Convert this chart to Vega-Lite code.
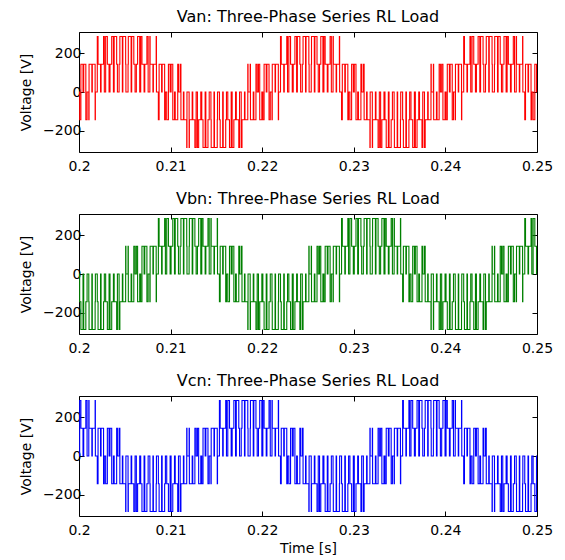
{
"$schema": "https://vega.github.io/schema/vega-lite/v6.json",
"padding": {"left": 19, "top": 8, "right": 22, "bottom": 5},
"background": "white",
"config": {
  "font": "DejaVu Sans",
  "view": {"stroke": "black", "strokeWidth": 1},
  "axis": {"grid": false, "domain": false, "tickColor": "black", "tickSize": -5, "labelPadding": 3, "labelFlush": false, "labelFontSize": 14, "labelColor": "black", "titleFontSize": 14, "titleFontWeight": "normal", "titleColor": "black", "titlePadding": 9, "labelFont": "DejaVu Sans", "titleFont": "DejaVu Sans"},
  "axisBottom": {"labelPadding": 12},
  "title": {"fontSize": 16, "fontWeight": "normal", "color": "black", "offset": 7, "font": "DejaVu Sans"},
  "concat": {"spacing": 62}
},
"data": {"values": [
{"t":0.2,"a":0,"b":0,"c":0},
{"t":0.200071,"a":-143,"b":-143,"c":287},{"t":0.200206,"a":143,"b":-287,"c":143},{"t":0.200438,"a":0,"b":0,"c":0},{"t":0.200515,"a":143,"b":-287,"c":143},{"t":0.200746,"a":-143,"b":-143,"c":287},{"t":0.200882,"a":0,"b":0,"c":0},
{"t":0.201070,"a":-143,"b":-143,"c":287},{"t":0.201098,"a":143,"b":-287,"c":143},{"t":0.201404,"a":0,"b":0,"c":0},{"t":0.201453,"a":143,"b":-287,"c":143},{"t":0.201760,"a":-143,"b":-143,"c":287},{"t":0.201787,"a":0,"b":0,"c":0},
{"t":0.201997,"a":287,"b":-143,"c":-143},{"t":0.202080,"a":143,"b":-287,"c":143},{"t":0.202352,"a":0,"b":0,"c":0},{"t":0.202410,"a":143,"b":-287,"c":143},{"t":0.202682,"a":287,"b":-143,"c":-143},{"t":0.202765,"a":0,"b":0,"c":0},
{"t":0.202910,"a":287,"b":-143,"c":-143},{"t":0.203095,"a":143,"b":-287,"c":143},{"t":0.203281,"a":0,"b":0,"c":0},{"t":0.203386,"a":143,"b":-287,"c":143},{"t":0.203571,"a":287,"b":-143,"c":-143},{"t":0.203757,"a":0,"b":0,"c":0},
{"t":0.203839,"a":287,"b":-143,"c":-143},{"t":0.204111,"a":143,"b":-287,"c":143},{"t":0.204193,"a":0,"b":0,"c":0},{"t":0.204378,"a":143,"b":-287,"c":143},{"t":0.204461,"a":287,"b":-143,"c":-143},{"t":0.204733,"a":0,"b":0,"c":0},
{"t":0.204786,"a":287,"b":-143,"c":-143},{"t":0.205093,"a":143,"b":143,"c":-287},{"t":0.205121,"a":0,"b":0,"c":0},{"t":0.205355,"a":143,"b":143,"c":-287},{"t":0.205383,"a":287,"b":-143,"c":-143},{"t":0.205690,"a":0,"b":0,"c":0},
{"t":0.205753,"a":287,"b":-143,"c":-143},{"t":0.205984,"a":143,"b":143,"c":-287},{"t":0.206120,"a":0,"b":0,"c":0},{"t":0.206261,"a":143,"b":143,"c":-287},{"t":0.206397,"a":287,"b":-143,"c":-143},{"t":0.206628,"a":0,"b":0,"c":0},
{"t":0.206737,"a":287,"b":-143,"c":-143},{"t":0.206873,"a":143,"b":143,"c":-287},{"t":0.207104,"a":0,"b":0,"c":0},{"t":0.207181,"a":143,"b":143,"c":-287},{"t":0.207413,"a":287,"b":-143,"c":-143},{"t":0.207548,"a":0,"b":0,"c":0},
{"t":0.207736,"a":287,"b":-143,"c":-143},{"t":0.207764,"a":143,"b":143,"c":-287},{"t":0.208071,"a":0,"b":0,"c":0},{"t":0.208120,"a":143,"b":143,"c":-287},{"t":0.208426,"a":287,"b":-143,"c":-143},{"t":0.208454,"a":0,"b":0,"c":0},
{"t":0.208664,"a":-143,"b":287,"c":-143},{"t":0.208746,"a":143,"b":143,"c":-287},{"t":0.209018,"a":0,"b":0,"c":0},{"t":0.209077,"a":143,"b":143,"c":-287},{"t":0.209349,"a":-143,"b":287,"c":-143},{"t":0.209431,"a":0,"b":0,"c":0},
{"t":0.209576,"a":-143,"b":287,"c":-143},{"t":0.209762,"a":143,"b":143,"c":-287},{"t":0.209947,"a":0,"b":0,"c":0},{"t":0.210053,"a":143,"b":143,"c":-287},{"t":0.210238,"a":-143,"b":287,"c":-143},{"t":0.210424,"a":0,"b":0,"c":0},
{"t":0.210505,"a":-143,"b":287,"c":-143},{"t":0.210777,"a":143,"b":143,"c":-287},{"t":0.210860,"a":0,"b":0,"c":0},{"t":0.211045,"a":143,"b":143,"c":-287},{"t":0.211127,"a":-143,"b":287,"c":-143},{"t":0.211399,"a":0,"b":0,"c":0},
{"t":0.211453,"a":-143,"b":287,"c":-143},{"t":0.211760,"a":-287,"b":143,"c":143},{"t":0.211787,"a":0,"b":0,"c":0},{"t":0.212022,"a":-287,"b":143,"c":143},{"t":0.212050,"a":-143,"b":287,"c":-143},{"t":0.212357,"a":0,"b":0,"c":0},
{"t":0.212420,"a":-143,"b":287,"c":-143},{"t":0.212651,"a":-287,"b":143,"c":143},{"t":0.212787,"a":0,"b":0,"c":0},{"t":0.212928,"a":-287,"b":143,"c":143},{"t":0.213063,"a":-143,"b":287,"c":-143},{"t":0.213295,"a":0,"b":0,"c":0},
{"t":0.213404,"a":-143,"b":287,"c":-143},{"t":0.213539,"a":-287,"b":143,"c":143},{"t":0.213771,"a":0,"b":0,"c":0},{"t":0.213848,"a":-287,"b":143,"c":143},{"t":0.214080,"a":-143,"b":287,"c":-143},{"t":0.214215,"a":0,"b":0,"c":0},
{"t":0.214403,"a":-143,"b":287,"c":-143},{"t":0.214431,"a":-287,"b":143,"c":143},{"t":0.214737,"a":0,"b":0,"c":0},{"t":0.214786,"a":-287,"b":143,"c":143},{"t":0.215093,"a":-143,"b":287,"c":-143},{"t":0.215121,"a":0,"b":0,"c":0},
{"t":0.215330,"a":-143,"b":-143,"c":287},{"t":0.215413,"a":-287,"b":143,"c":143},{"t":0.215685,"a":0,"b":0,"c":0},{"t":0.215743,"a":-287,"b":143,"c":143},{"t":0.216016,"a":-143,"b":-143,"c":287},{"t":0.216098,"a":0,"b":0,"c":0},
{"t":0.216243,"a":-143,"b":-143,"c":287},{"t":0.216429,"a":-287,"b":143,"c":143},{"t":0.216614,"a":0,"b":0,"c":0},{"t":0.216719,"a":-287,"b":143,"c":143},{"t":0.216905,"a":-143,"b":-143,"c":287},{"t":0.217090,"a":0,"b":0,"c":0},
{"t":0.217172,"a":-143,"b":-143,"c":287},{"t":0.217444,"a":-287,"b":143,"c":143},{"t":0.217527,"a":0,"b":0,"c":0},{"t":0.217711,"a":-287,"b":143,"c":143},{"t":0.217794,"a":-143,"b":-143,"c":287},{"t":0.218066,"a":0,"b":0,"c":0},
{"t":0.218120,"a":-143,"b":-143,"c":287},{"t":0.218426,"a":143,"b":-287,"c":143},{"t":0.218454,"a":0,"b":0,"c":0},{"t":0.218689,"a":143,"b":-287,"c":143},{"t":0.218717,"a":-143,"b":-143,"c":287},{"t":0.219023,"a":0,"b":0,"c":0},
{"t":0.219086,"a":-143,"b":-143,"c":287},{"t":0.219318,"a":143,"b":-287,"c":143},{"t":0.219453,"a":0,"b":0,"c":0},{"t":0.219594,"a":143,"b":-287,"c":143},{"t":0.219730,"a":-143,"b":-143,"c":287},{"t":0.219961,"a":0,"b":0,"c":0},
{"t":0.220071,"a":-143,"b":-143,"c":287},{"t":0.220206,"a":143,"b":-287,"c":143},{"t":0.220438,"a":0,"b":0,"c":0},{"t":0.220515,"a":143,"b":-287,"c":143},{"t":0.220746,"a":-143,"b":-143,"c":287},{"t":0.220882,"a":0,"b":0,"c":0},
{"t":0.221070,"a":-143,"b":-143,"c":287},{"t":0.221098,"a":143,"b":-287,"c":143},{"t":0.221404,"a":0,"b":0,"c":0},{"t":0.221453,"a":143,"b":-287,"c":143},{"t":0.221760,"a":-143,"b":-143,"c":287},{"t":0.221787,"a":0,"b":0,"c":0},
{"t":0.221997,"a":287,"b":-143,"c":-143},{"t":0.222080,"a":143,"b":-287,"c":143},{"t":0.222352,"a":0,"b":0,"c":0},{"t":0.222410,"a":143,"b":-287,"c":143},{"t":0.222682,"a":287,"b":-143,"c":-143},{"t":0.222765,"a":0,"b":0,"c":0},
{"t":0.222910,"a":287,"b":-143,"c":-143},{"t":0.223095,"a":143,"b":-287,"c":143},{"t":0.223281,"a":0,"b":0,"c":0},{"t":0.223386,"a":143,"b":-287,"c":143},{"t":0.223571,"a":287,"b":-143,"c":-143},{"t":0.223757,"a":0,"b":0,"c":0},
{"t":0.223839,"a":287,"b":-143,"c":-143},{"t":0.224111,"a":143,"b":-287,"c":143},{"t":0.224193,"a":0,"b":0,"c":0},{"t":0.224378,"a":143,"b":-287,"c":143},{"t":0.224461,"a":287,"b":-143,"c":-143},{"t":0.224733,"a":0,"b":0,"c":0},
{"t":0.224786,"a":287,"b":-143,"c":-143},{"t":0.225093,"a":143,"b":143,"c":-287},{"t":0.225121,"a":0,"b":0,"c":0},{"t":0.225355,"a":143,"b":143,"c":-287},{"t":0.225383,"a":287,"b":-143,"c":-143},{"t":0.225690,"a":0,"b":0,"c":0},
{"t":0.225753,"a":287,"b":-143,"c":-143},{"t":0.225984,"a":143,"b":143,"c":-287},{"t":0.226120,"a":0,"b":0,"c":0},{"t":0.226261,"a":143,"b":143,"c":-287},{"t":0.226397,"a":287,"b":-143,"c":-143},{"t":0.226628,"a":0,"b":0,"c":0},
{"t":0.226737,"a":287,"b":-143,"c":-143},{"t":0.226873,"a":143,"b":143,"c":-287},{"t":0.227104,"a":0,"b":0,"c":0},{"t":0.227181,"a":143,"b":143,"c":-287},{"t":0.227413,"a":287,"b":-143,"c":-143},{"t":0.227548,"a":0,"b":0,"c":0},
{"t":0.227736,"a":287,"b":-143,"c":-143},{"t":0.227764,"a":143,"b":143,"c":-287},{"t":0.228071,"a":0,"b":0,"c":0},{"t":0.228120,"a":143,"b":143,"c":-287},{"t":0.228426,"a":287,"b":-143,"c":-143},{"t":0.228454,"a":0,"b":0,"c":0},
{"t":0.228664,"a":-143,"b":287,"c":-143},{"t":0.228746,"a":143,"b":143,"c":-287},{"t":0.229018,"a":0,"b":0,"c":0},{"t":0.229077,"a":143,"b":143,"c":-287},{"t":0.229349,"a":-143,"b":287,"c":-143},{"t":0.229431,"a":0,"b":0,"c":0},
{"t":0.229576,"a":-143,"b":287,"c":-143},{"t":0.229762,"a":143,"b":143,"c":-287},{"t":0.229947,"a":0,"b":0,"c":0},{"t":0.230053,"a":143,"b":143,"c":-287},{"t":0.230238,"a":-143,"b":287,"c":-143},{"t":0.230424,"a":0,"b":0,"c":0},
{"t":0.230505,"a":-143,"b":287,"c":-143},{"t":0.230777,"a":143,"b":143,"c":-287},{"t":0.230860,"a":0,"b":0,"c":0},{"t":0.231045,"a":143,"b":143,"c":-287},{"t":0.231127,"a":-143,"b":287,"c":-143},{"t":0.231399,"a":0,"b":0,"c":0},
{"t":0.231453,"a":-143,"b":287,"c":-143},{"t":0.231760,"a":-287,"b":143,"c":143},{"t":0.231787,"a":0,"b":0,"c":0},{"t":0.232022,"a":-287,"b":143,"c":143},{"t":0.232050,"a":-143,"b":287,"c":-143},{"t":0.232357,"a":0,"b":0,"c":0},
{"t":0.232420,"a":-143,"b":287,"c":-143},{"t":0.232651,"a":-287,"b":143,"c":143},{"t":0.232787,"a":0,"b":0,"c":0},{"t":0.232928,"a":-287,"b":143,"c":143},{"t":0.233063,"a":-143,"b":287,"c":-143},{"t":0.233295,"a":0,"b":0,"c":0},
{"t":0.233404,"a":-143,"b":287,"c":-143},{"t":0.233539,"a":-287,"b":143,"c":143},{"t":0.233771,"a":0,"b":0,"c":0},{"t":0.233848,"a":-287,"b":143,"c":143},{"t":0.234080,"a":-143,"b":287,"c":-143},{"t":0.234215,"a":0,"b":0,"c":0},
{"t":0.234403,"a":-143,"b":287,"c":-143},{"t":0.234431,"a":-287,"b":143,"c":143},{"t":0.234737,"a":0,"b":0,"c":0},{"t":0.234786,"a":-287,"b":143,"c":143},{"t":0.235093,"a":-143,"b":287,"c":-143},{"t":0.235121,"a":0,"b":0,"c":0},
{"t":0.235330,"a":-143,"b":-143,"c":287},{"t":0.235413,"a":-287,"b":143,"c":143},{"t":0.235685,"a":0,"b":0,"c":0},{"t":0.235743,"a":-287,"b":143,"c":143},{"t":0.236016,"a":-143,"b":-143,"c":287},{"t":0.236098,"a":0,"b":0,"c":0},
{"t":0.236243,"a":-143,"b":-143,"c":287},{"t":0.236429,"a":-287,"b":143,"c":143},{"t":0.236614,"a":0,"b":0,"c":0},{"t":0.236719,"a":-287,"b":143,"c":143},{"t":0.236905,"a":-143,"b":-143,"c":287},{"t":0.237090,"a":0,"b":0,"c":0},
{"t":0.237172,"a":-143,"b":-143,"c":287},{"t":0.237444,"a":-287,"b":143,"c":143},{"t":0.237527,"a":0,"b":0,"c":0},{"t":0.237711,"a":-287,"b":143,"c":143},{"t":0.237794,"a":-143,"b":-143,"c":287},{"t":0.238066,"a":0,"b":0,"c":0},
{"t":0.238120,"a":-143,"b":-143,"c":287},{"t":0.238426,"a":143,"b":-287,"c":143},{"t":0.238454,"a":0,"b":0,"c":0},{"t":0.238689,"a":143,"b":-287,"c":143},{"t":0.238717,"a":-143,"b":-143,"c":287},{"t":0.239023,"a":0,"b":0,"c":0},
{"t":0.239086,"a":-143,"b":-143,"c":287},{"t":0.239318,"a":143,"b":-287,"c":143},{"t":0.239453,"a":0,"b":0,"c":0},{"t":0.239594,"a":143,"b":-287,"c":143},{"t":0.239730,"a":-143,"b":-143,"c":287},{"t":0.239961,"a":0,"b":0,"c":0},
{"t":0.240071,"a":-143,"b":-143,"c":287},{"t":0.240206,"a":143,"b":-287,"c":143},{"t":0.240438,"a":0,"b":0,"c":0},{"t":0.240515,"a":143,"b":-287,"c":143},{"t":0.240746,"a":-143,"b":-143,"c":287},{"t":0.240882,"a":0,"b":0,"c":0},
{"t":0.241070,"a":-143,"b":-143,"c":287},{"t":0.241098,"a":143,"b":-287,"c":143},{"t":0.241404,"a":0,"b":0,"c":0},{"t":0.241453,"a":143,"b":-287,"c":143},{"t":0.241760,"a":-143,"b":-143,"c":287},{"t":0.241787,"a":0,"b":0,"c":0},
{"t":0.241997,"a":287,"b":-143,"c":-143},{"t":0.242080,"a":143,"b":-287,"c":143},{"t":0.242352,"a":0,"b":0,"c":0},{"t":0.242410,"a":143,"b":-287,"c":143},{"t":0.242682,"a":287,"b":-143,"c":-143},{"t":0.242765,"a":0,"b":0,"c":0},
{"t":0.242910,"a":287,"b":-143,"c":-143},{"t":0.243095,"a":143,"b":-287,"c":143},{"t":0.243281,"a":0,"b":0,"c":0},{"t":0.243386,"a":143,"b":-287,"c":143},{"t":0.243571,"a":287,"b":-143,"c":-143},{"t":0.243757,"a":0,"b":0,"c":0},
{"t":0.243839,"a":287,"b":-143,"c":-143},{"t":0.244111,"a":143,"b":-287,"c":143},{"t":0.244193,"a":0,"b":0,"c":0},{"t":0.244378,"a":143,"b":-287,"c":143},{"t":0.244461,"a":287,"b":-143,"c":-143},{"t":0.244733,"a":0,"b":0,"c":0},
{"t":0.244786,"a":287,"b":-143,"c":-143},{"t":0.245093,"a":143,"b":143,"c":-287},{"t":0.245121,"a":0,"b":0,"c":0},{"t":0.245355,"a":143,"b":143,"c":-287},{"t":0.245383,"a":287,"b":-143,"c":-143},{"t":0.245690,"a":0,"b":0,"c":0},
{"t":0.245753,"a":287,"b":-143,"c":-143},{"t":0.245984,"a":143,"b":143,"c":-287},{"t":0.246120,"a":0,"b":0,"c":0},{"t":0.246261,"a":143,"b":143,"c":-287},{"t":0.246397,"a":287,"b":-143,"c":-143},{"t":0.246628,"a":0,"b":0,"c":0},
{"t":0.246737,"a":287,"b":-143,"c":-143},{"t":0.246873,"a":143,"b":143,"c":-287},{"t":0.247104,"a":0,"b":0,"c":0},{"t":0.247181,"a":143,"b":143,"c":-287},{"t":0.247413,"a":287,"b":-143,"c":-143},{"t":0.247548,"a":0,"b":0,"c":0},
{"t":0.247736,"a":287,"b":-143,"c":-143},{"t":0.247764,"a":143,"b":143,"c":-287},{"t":0.248071,"a":0,"b":0,"c":0},{"t":0.248120,"a":143,"b":143,"c":-287},{"t":0.248426,"a":287,"b":-143,"c":-143},{"t":0.248454,"a":0,"b":0,"c":0},
{"t":0.248664,"a":-143,"b":287,"c":-143},{"t":0.248746,"a":143,"b":143,"c":-287},{"t":0.249018,"a":0,"b":0,"c":0},{"t":0.249077,"a":143,"b":143,"c":-287},{"t":0.249349,"a":-143,"b":287,"c":-143},{"t":0.249431,"a":0,"b":0,"c":0},
{"t":0.249576,"a":-143,"b":287,"c":-143},{"t":0.249762,"a":143,"b":143,"c":-287},{"t":0.249947,"a":0,"b":0,"c":0},
{"t":0.25,"a":0,"b":0,"c":0}
]},
"bounds": "flush",
"vconcat": [
{
  "title": "Van: Three-Phase Series RL Load",
  "width": 458, "height": 120,
  "layer": [
    {"mark": {"type": "line", "interpolate": "step-after", "color": "#ff0000", "strokeWidth": 1.1},
     "encoding": {
       "x": {"field": "t", "type": "quantitative", "scale": {"domain": [0.2, 0.25], "nice": false, "zero": false}, "axis": {"values": [0.2, 0.21, 0.22, 0.23, 0.24, 0.25], "format": ".2~f", "title": null}},
       "y": {"field": "a", "type": "quantitative", "scale": {"domain": [-310, 310], "nice": false}, "axis": {"values": [-200, 0, 200], "title": "Voltage [V]"}}
     }},
    {"mark": {"type": "line", "interpolate": "step-after", "opacity": 0},
     "encoding": {
       "x": {"field": "t", "type": "quantitative", "axis": {"orient": "top", "values": [0.2, 0.21, 0.22, 0.23, 0.24, 0.25], "labels": false, "title": null}},
       "y": {"field": "a", "type": "quantitative", "axis": {"orient": "right", "values": [-200, 0, 200], "labels": false, "title": null}}
     }}
  ],
  "resolve": {"axis": {"x": "independent", "y": "independent"}}
},
{
  "title": "Vbn: Three-Phase Series RL Load",
  "width": 458, "height": 120,
  "layer": [
    {"mark": {"type": "line", "interpolate": "step-after", "color": "#008000", "strokeWidth": 1.1},
     "encoding": {
       "x": {"field": "t", "type": "quantitative", "scale": {"domain": [0.2, 0.25], "nice": false, "zero": false}, "axis": {"values": [0.2, 0.21, 0.22, 0.23, 0.24, 0.25], "format": ".2~f", "title": null}},
       "y": {"field": "b", "type": "quantitative", "scale": {"domain": [-310, 310], "nice": false}, "axis": {"values": [-200, 0, 200], "title": "Voltage [V]"}}
     }},
    {"mark": {"type": "line", "interpolate": "step-after", "opacity": 0},
     "encoding": {
       "x": {"field": "t", "type": "quantitative", "axis": {"orient": "top", "values": [0.2, 0.21, 0.22, 0.23, 0.24, 0.25], "labels": false, "title": null}},
       "y": {"field": "b", "type": "quantitative", "axis": {"orient": "right", "values": [-200, 0, 200], "labels": false, "title": null}}
     }}
  ],
  "resolve": {"axis": {"x": "independent", "y": "independent"}}
},
{
  "title": "Vcn: Three-Phase Series RL Load",
  "width": 458, "height": 120,
  "layer": [
    {"mark": {"type": "line", "interpolate": "step-after", "color": "#0000ff", "strokeWidth": 1.1},
     "encoding": {
       "x": {"field": "t", "type": "quantitative", "scale": {"domain": [0.2, 0.25], "nice": false, "zero": false}, "axis": {"values": [0.2, 0.21, 0.22, 0.23, 0.24, 0.25], "format": ".2~f", "title": "Time [s]", "titlePadding": 4}},
       "y": {"field": "c", "type": "quantitative", "scale": {"domain": [-310, 310], "nice": false}, "axis": {"values": [-200, 0, 200], "title": "Voltage [V]"}}
     }},
    {"mark": {"type": "line", "interpolate": "step-after", "opacity": 0},
     "encoding": {
       "x": {"field": "t", "type": "quantitative", "axis": {"orient": "top", "values": [0.2, 0.21, 0.22, 0.23, 0.24, 0.25], "labels": false, "title": null}},
       "y": {"field": "c", "type": "quantitative", "axis": {"orient": "right", "values": [-200, 0, 200], "labels": false, "title": null}}
     }}
  ],
  "resolve": {"axis": {"x": "independent", "y": "independent"}}
}
]
}
